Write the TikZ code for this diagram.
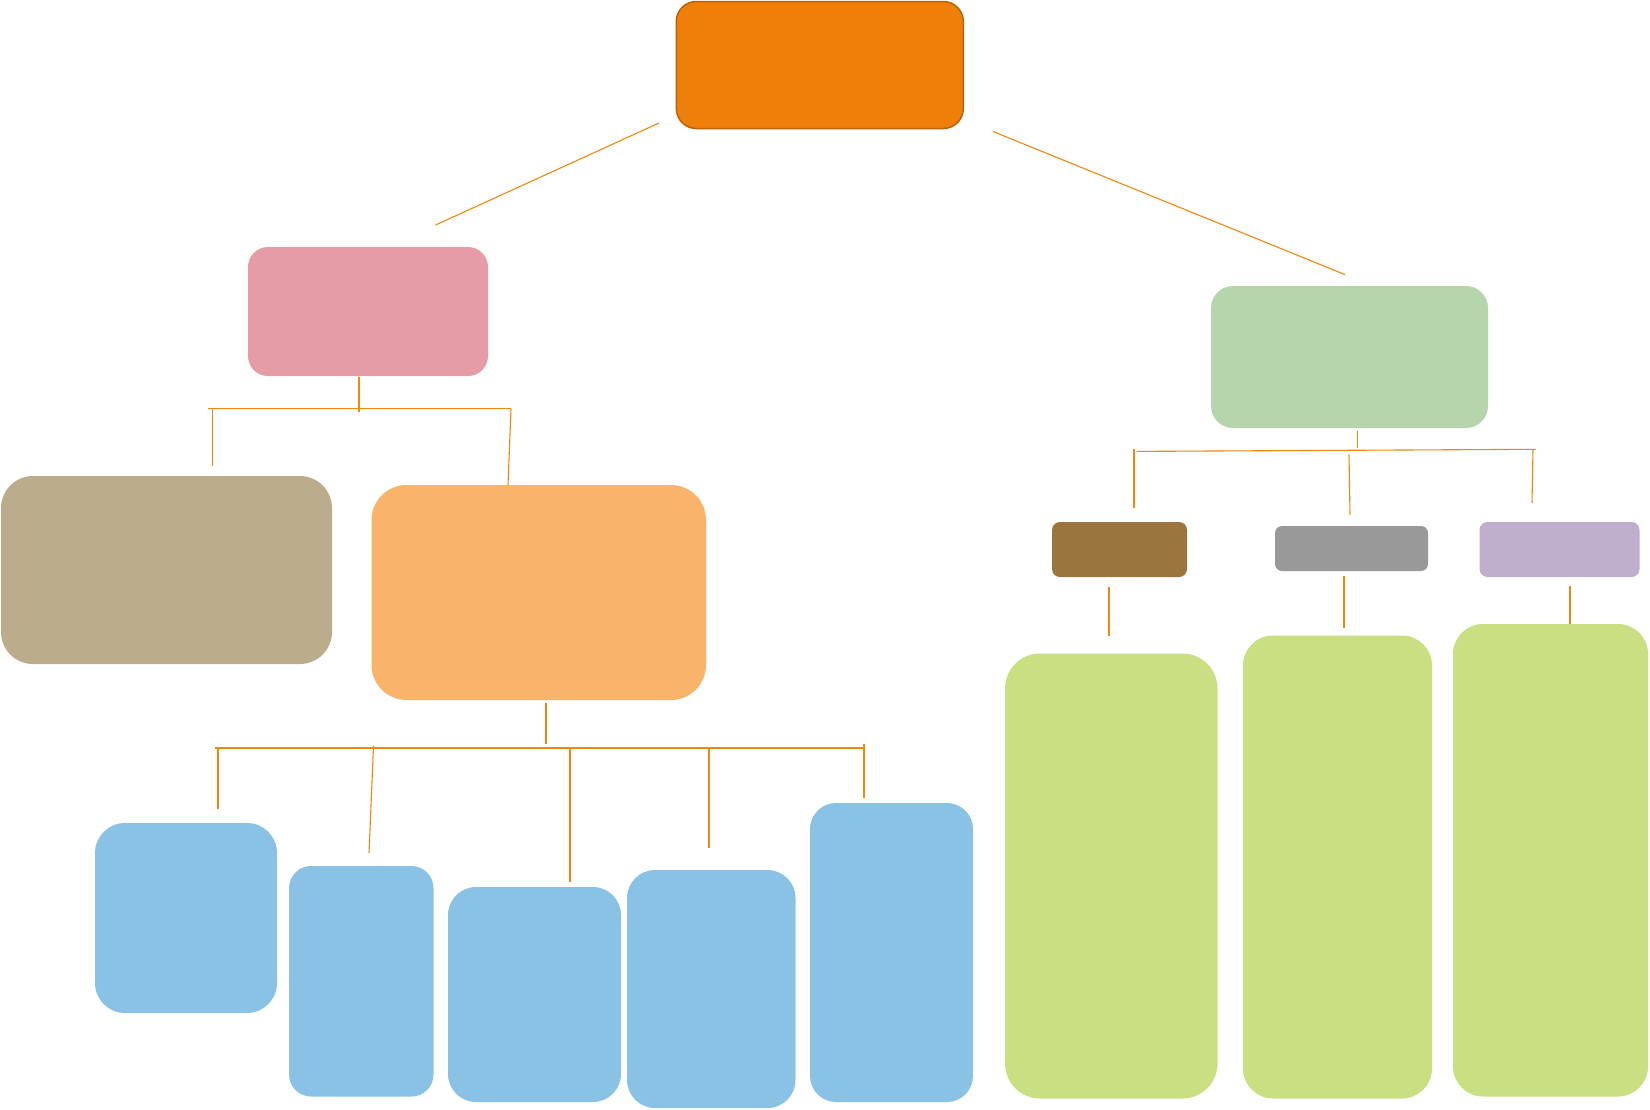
\documentclass[tikz,border=0pt]{standalone}
\begin{document}
\begin{tikzpicture}[x=1pt,y=-1pt,
  box/.style={draw=none,inner sep=0pt,outer sep=0pt,rectangle},
  conn/.style={draw=lnc,line width=1.1pt}]
\definecolor{lnc}{HTML}{F0870F}
\definecolor{topc}{HTML}{F07F09}
\definecolor{topb}{HTML}{B8620C}
\definecolor{pinkc}{HTML}{E59CA6}
\definecolor{tanc}{HTML}{BBAD8C}
\definecolor{lorc}{HTML}{F9B36A}
\definecolor{bluec}{HTML}{8AC2E5}
\definecolor{grnc}{HTML}{B5D6AC}
\definecolor{brnc}{HTML}{9B753B}
\definecolor{gryc}{HTML}{999999}
\definecolor{purc}{HTML}{BEAFCF}
\definecolor{limc}{HTML}{C9DF82}
\useasboundingbox[fill=white] (0,0) rectangle (1650,1109);
% boxes
\node[box,fill=topc,draw=topb,line width=1.5pt,rounded corners=20pt,minimum width=287pt,minimum height=127pt] (top) at (819.8,65) {};
\node[box,fill=pinkc,rounded corners=20pt,minimum width=240pt,minimum height=129pt] (pink) at (368,311.5) {};
\node[box,fill=tanc,rounded corners=32pt,minimum width=331pt,minimum height=188pt] (tan) at (166.5,570) {};
\node[box,fill=lorc,rounded corners=35pt,minimum width=334.5pt,minimum height=215pt] (lor) at (538.75,592.5) {};
\node[box,fill=bluec,rounded corners=30pt,minimum width=182pt,minimum height=190pt] (b1) at (186,918) {};
\node[box,fill=bluec,rounded corners=22pt,minimum width=144.5pt,minimum height=230.5pt] (b2) at (361.25,981.25) {};
\node[box,fill=bluec,rounded corners=28pt,minimum width=173pt,minimum height=215pt] (b3) at (534.5,994.5) {};
\node[box,fill=bluec,rounded corners=28pt,minimum width=168.5pt,minimum height=238pt] (b4) at (711.25,989) {};
\node[box,fill=bluec,rounded corners=26pt,minimum width=163pt,minimum height=299pt] (b5) at (891.5,952.5) {};
\node[box,fill=grnc,rounded corners=22pt,minimum width=277pt,minimum height=142pt] (grn) at (1349.5,357) {};
\node[box,fill=brnc,rounded corners=8pt,minimum width=135pt,minimum height=55pt] (brn) at (1119.5,549.5) {};
\node[box,fill=gryc,rounded corners=7pt,minimum width=153pt,minimum height=45pt] (gry) at (1351.5,548.5) {};
\node[box,fill=purc,rounded corners=8pt,minimum width=160pt,minimum height=55pt] (pur) at (1559.5,549.5) {};
\node[box,fill=limc,rounded corners=35pt,minimum width=212.5pt,minimum height=445pt] (g1) at (1111.25,876) {};
\node[box,fill=limc,rounded corners=30pt,minimum width=189pt,minimum height=463pt] (g2) at (1337.5,867) {};
\node[box,fill=limc,rounded corners=30pt,minimum width=195pt,minimum height=472.5pt] (g3) at (1550.5,860.25) {};
% connector end points
\coordinate (t1) at (659,123);   \coordinate (t1e) at (435.6,225);
\coordinate (t2) at (993,131.5); \coordinate (t2e) at (1345,274.6);
\coordinate (p0) at (359,377);   \coordinate (p1) at (359,412);
\coordinate (hl) at (208,408.5); \coordinate (hr) at (511,408.5);
\coordinate (ta) at (212.5,409); \coordinate (tb) at (212.5,466);
\coordinate (la) at (511,409);   \coordinate (lb) at (508,485);
\coordinate (o0) at (546,703);   \coordinate (o1) at (546,744);
\coordinate (ol) at (215,748);   \coordinate (or) at (865,748);
\coordinate (q1a) at (218,749);  \coordinate (q1b) at (218,809);
\coordinate (q2a) at (373.5,746);\coordinate (q2b) at (369,853);
\coordinate (q3a) at (570,749);  \coordinate (q3b) at (570,882);
\coordinate (q4a) at (709,748);  \coordinate (q4b) at (709,848);
\coordinate (q5a) at (864,744);  \coordinate (q5b) at (864,798);
\coordinate (g0) at (1357.5,431);\coordinate (g0b) at (1357.5,448);
\coordinate (gl) at (1136.5,451.4); \coordinate (gr) at (1536,449.3);
\coordinate (r1a) at (1134,449); \coordinate (r1b) at (1134,508);
\coordinate (r2a) at (1349,454.6); \coordinate (r2b) at (1350,514.6);
\coordinate (r3a) at (1533,449); \coordinate (r3b) at (1532,503);
\coordinate (s1a) at (1109,587); \coordinate (s1b) at (1109,636);
\coordinate (s2a) at (1344,576); \coordinate (s2b) at (1344,628);
\coordinate (s3a) at (1570,586); \coordinate (s3b) at (1570,624);
% connectors
\draw[conn] (t1) -- (t1e);
\draw[conn] (t2) -- (t2e);
\draw[conn] (p0) -- (p1);
\draw[conn] (hl) -- (hr);
\draw[conn] (ta) -- (tb);
\draw[conn] (la) -- (lb);
\draw[conn] (o0) -- (o1);
\draw[conn] (ol) -- (or);
\draw[conn] (q1a) -- (q1b);
\draw[conn] (q2a) -- (q2b);
\draw[conn] (q3a) -- (q3b);
\draw[conn] (q4a) -- (q4b);
\draw[conn] (q5a) -- (q5b);
\draw[conn] (g0) -- (g0b);
\draw[conn] (gl) -- (gr);
\draw[conn] (r1a) -- (r1b);
\draw[conn] (r2a) -- (r2b);
\draw[conn] (r3a) -- (r3b);
\draw[conn] (s1a) -- (s1b);
\draw[conn] (s2a) -- (s2b);
\draw[conn] (s3a) -- (s3b);
\end{tikzpicture}
\end{document}
